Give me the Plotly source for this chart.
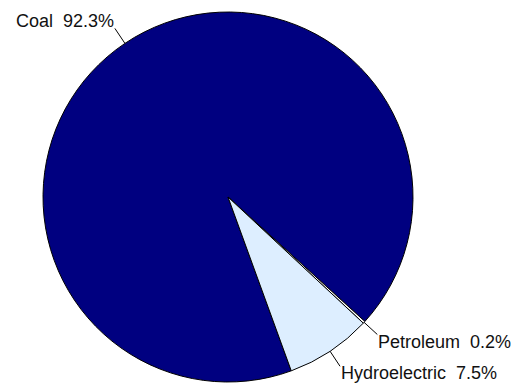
import math
import plotly.graph_objects as go

# ---- data ----
labels = ["Coal", "Petroleum", "Hydroelectric"]
values = [92.3, 0.2, 7.5]
colors = ["#000080", "#FFFFFF", "#DDEEFF"]

# ---- layout constants (page body has an 8px margin) ----
OFF = 8
W, H = 519 - OFF, 383 - OFF
CX, CY, R = 228 - OFF, 197 - OFF, 185
ROT = 160
LEAD = 18
FONT = dict(family="Liberation Sans, Arial, sans-serif", size=18, color="#111111")

fig = go.Figure(
    go.Pie(
        labels=labels,
        values=values,
        sort=False,
        direction="clockwise",
        rotation=ROT,
        marker=dict(colors=colors, line=dict(color="black", width=1)),
        textinfo="none",
        hoverinfo="label+percent",
        showlegend=False,
        domain=dict(x=[(CX - R) / W, (CX + R) / W], y=[1 - (CY + R) / H, 1 - (CY - R) / H]),
    )
)

total = sum(values)
start = ROT
shapes, annotations = [], []
for lab, v in zip(labels, values):
    frac = v / total
    mid = math.radians(start + frac * 360 / 2)
    start += frac * 360
    s, c = math.sin(mid), math.cos(mid)
    px, py = CX + R * s, CY - R * c
    qx, qy = CX + (R + LEAD) * s, CY - (R + LEAD) * c
    shapes.append(dict(type="line", xref="paper", yref="paper",
                       x0=px / W, y0=1 - py / H, x1=qx / W, y1=1 - qy / H,
                       line=dict(color="black", width=1)))
    above = c > 0
    annotations.append(dict(
        xref="paper", yref="paper", x=qx / W, y=1 - qy / H,
        text=f"{lab}  {frac * 100:.1f}%", showarrow=False,
        xanchor="right" if s < 0 else "left",
        yanchor="bottom" if above else "top",
        yshift=-4 if above else 4,
        borderpad=0,
        font=FONT,
    ))

fig.update_layout(
    width=W, height=H,
    margin=dict(l=0, r=0, t=0, b=0),
    paper_bgcolor="white", plot_bgcolor="white",
    shapes=shapes, annotations=annotations,
)

fig.write_html("out.html")
